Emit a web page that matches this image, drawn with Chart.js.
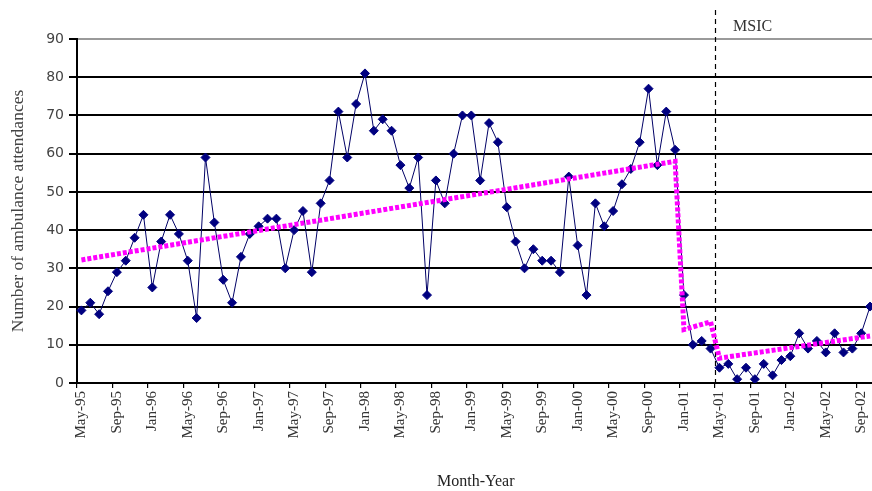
<!DOCTYPE html>
<html>
<head>
<meta charset="utf-8">
<script src="https://cdn.jsdelivr.net/npm/chart.js@4.4.1/dist/chart.umd.min.js"></script>
<style>
  html, body { margin: 0; padding: 0; background: #fff; overflow: hidden; width: 872px; height: 491px; }
  #wrap { width: 880px; height: 491px; }
  canvas { display: block; }
</style>
</head>
<body>
<div id="wrap"><canvas id="chart" width="880" height="491"></canvas></div>
<script>
// Monthly categories, May 1995 to October 2002
const months = [
  'May-95','Jun-95','Jul-95','Aug-95','Sep-95','Oct-95','Nov-95','Dec-95',
  'Jan-96','Feb-96','Mar-96','Apr-96','May-96','Jun-96','Jul-96','Aug-96','Sep-96','Oct-96','Nov-96','Dec-96',
  'Jan-97','Feb-97','Mar-97','Apr-97','May-97','Jun-97','Jul-97','Aug-97','Sep-97','Oct-97','Nov-97','Dec-97',
  'Jan-98','Feb-98','Mar-98','Apr-98','May-98','Jun-98','Jul-98','Aug-98','Sep-98','Oct-98','Nov-98','Dec-98',
  'Jan-99','Feb-99','Mar-99','Apr-99','May-99','Jun-99','Jul-99','Aug-99','Sep-99','Oct-99','Nov-99','Dec-99',
  'Jan-00','Feb-00','Mar-00','Apr-00','May-00','Jun-00','Jul-00','Aug-00','Sep-00','Oct-00','Nov-00','Dec-00',
  'Jan-01','Feb-01','Mar-01','Apr-01','May-01','Jun-01','Jul-01','Aug-01','Sep-01','Oct-01','Nov-01','Dec-01',
  'Jan-02','Feb-02','Mar-02','Apr-02','May-02','Jun-02','Jul-02','Aug-02','Sep-02','Oct-02'
];

// Number of ambulance attendances per month
const attendances = [
  19, 21, 18, 24, 29, 32, 38, 44,
  25, 37, 44, 39, 32, 17, 59, 42, 27, 21, 33, 39,
  41, 43, 43, 30, 40, 45, 29, 47, 53, 71, 59, 73,
  81, 66, 69, 66, 57, 51, 59, 23, 53, 47, 60, 70,
  70, 53, 68, 63, 46, 37, 30, 35, 32, 32, 29, 54,
  36, 23, 47, 41, 45, 52, 56, 63, 77, 57, 71, 61,
  23, 10, 11,  9,  4,  5,  1,  4,  1,  5,  2,  6,
   7, 13,  9, 11,  8, 13,  8,  9, 13, 20
];

// Segmented trend: end points of each fitted period
const trendMonths = ['May-95', 'Dec-00', 'Jan-01', 'Apr-01', 'May-01', 'Oct-02'];
const trendValues = [32.2, 58, 14, 16, 6.5, 12.3];

const yTicks = [0, 10, 20, 30, 40, 50, 60, 70, 80, 90];
const tickEvery = 4;
const interventionMonth = 'May-01';
const interventionLabel = 'MSIC';

const trendData = trendMonths.map((m, i) => ({ x: m, y: trendValues[i] }));

// Dashed marker where the MSIC opened, with its caption
const interventionMarker = {
  id: 'interventionMarker',
  beforeDatasetsDraw(chart) {
    const xs = chart.scales.x;
    const idx = months.indexOf(interventionMonth);
    const px = (xs.getPixelForValue(idx - 1) + xs.getPixelForValue(idx)) / 2;
    const { ctx, chartArea } = chart;
    const lx = Math.round(px) + 0.5;
    ctx.save();
    ctx.strokeStyle = '#000';
    ctx.lineWidth = 1.2;
    ctx.setLineDash([5, 4]);
    ctx.beginPath();
    ctx.moveTo(lx, 10);
    ctx.lineTo(lx, chartArea.bottom);
    ctx.stroke();
    ctx.setLineDash([]);
    ctx.font = '16px "Liberation Serif", "Times New Roman", serif';
    ctx.fillStyle = '#333';
    ctx.textAlign = 'left';
    ctx.textBaseline = 'middle';
    ctx.fillText(interventionLabel, px + 18, 27);
    ctx.restore();
  }
};

new Chart(document.getElementById('chart'), {
  type: 'line',
  data: {
    labels: months,
    datasets: [
      {
        label: 'Ambulance attendances',
        data: attendances,
        borderColor: '#000066',
        borderWidth: 1,
        pointStyle: 'rectRot',
        pointRadius: 4.5,
        pointBackgroundColor: '#000080',
        pointBorderColor: '#000080',
        pointBorderWidth: 1,
        tension: 0,
        order: 2
      },
      {
        label: 'Trend',
        data: trendData,
        borderColor: '#ff00ff',
        borderWidth: 5,
        borderDash: [4, 2],
        borderCapStyle: 'butt',
        pointRadius: 0,
        spanGaps: true,
        tension: 0,
        order: 1
      }
    ]
  },
  options: {
    responsive: false,
    devicePixelRatio: 1,
    animation: false,
    layout: { padding: { top: 39, right: 1, bottom: 0, left: 0 } },
    plugins: { legend: { display: false }, tooltip: { enabled: false } },
    scales: {
      x: {
        type: 'category',
        offset: true,
        grid: {
          offset: true,
          drawOnChartArea: false,
          drawTicks: true,
          tickLength: 5,
          lineWidth: 1.2,
          color: c => (c.index % tickEvery === 0 ? '#000' : 'rgba(0,0,0,0)')
        },
        border: { color: '#000', width: 2 },
        ticks: {
          autoSkip: false,
          minRotation: 90,
          maxRotation: 90,
          padding: 3,
          color: '#333',
          font: { family: '"Liberation Serif", "Times New Roman", serif', size: 15 },
          callback: (v, i) => (i % tickEvery === 0 ? months[i] : '')
        },
        title: {
          display: true,
          text: 'Month-Year',
          color: '#222',
          font: { family: '"Liberation Serif", "Times New Roman", serif', size: 16 },
          padding: { top: 0, bottom: 0 }
        },
        afterFit: s => { s.height = 108; s.paddingLeft = 0; s.paddingRight = 0; }
      },
      y: {
        min: yTicks[0],
        max: yTicks[yTicks.length - 1],
        afterBuildTicks: s => { s.ticks = yTicks.map(v => ({ value: v })); },
        grid: {
          lineWidth: 2,
          tickLength: 8,
          tickColor: '#000',
          color: c => (c.tick && c.tick.value === 90 ? '#9a9a9a' : '#000')
        },
        border: { color: '#000', width: 2 },
        ticks: {
          color: '#444',
          padding: 5,
          font: { family: '"DejaVu Sans", Verdana, sans-serif', size: 14 }
        },
        title: {
          display: true,
          text: 'Number of ambulance attendances',
          color: '#444',
          font: { family: '"Liberation Serif", "Times New Roman", serif', size: 17.5 },
          padding: { top: 8, bottom: 0 }
        },
        afterFit: s => { s.width = 77; }
      }
    }
  },
  plugins: [interventionMarker]
});
</script>
</body>
</html>
